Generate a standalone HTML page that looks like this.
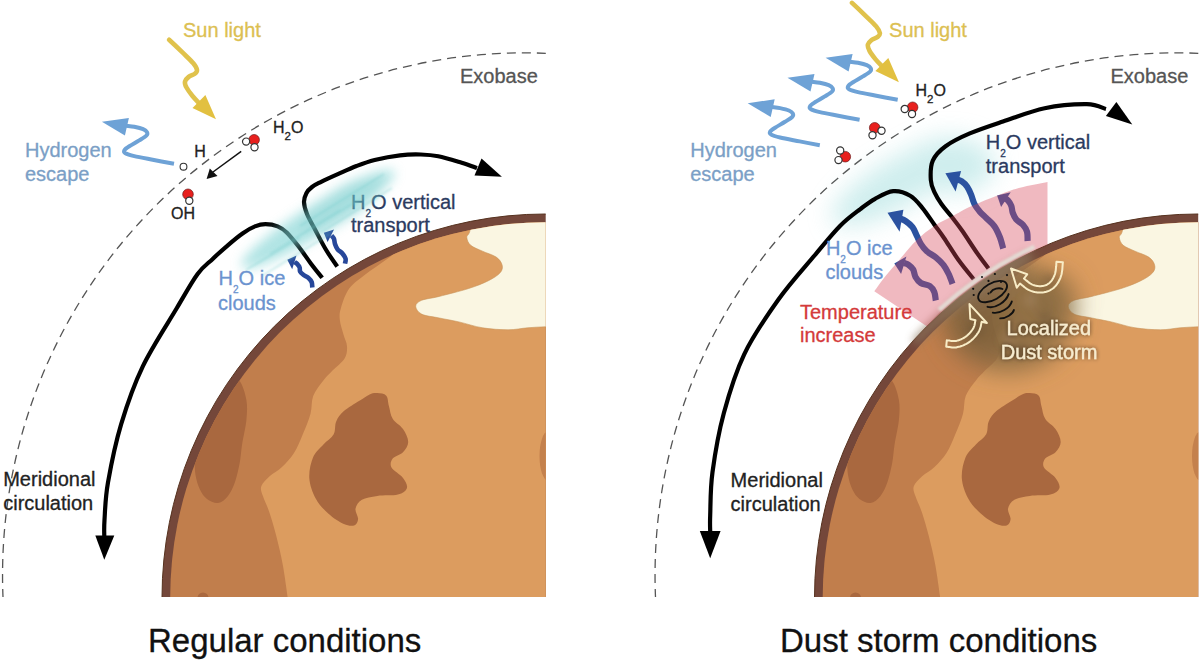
<!DOCTYPE html>
<html><head><meta charset="utf-8">
<style>
html,body{margin:0;padding:0;background:#fff;}
body{width:1200px;height:662px;overflow:hidden;}
svg{display:block;}
text{font-family:"Liberation Sans",sans-serif;}
</style></head>
<body>
<svg width="1200" height="662" viewBox="0 0 1200 662">
<defs>
  <clipPath id="pclip"><path d="M0 0 H545.7 V597 H0 Z"/></clipPath>
  <clipPath id="pinner"><circle cx="545.5" cy="597.5" r="375.3"/></clipPath>
  <clipPath id="rclip"><circle cx="1198.0" cy="597.5" r="384.0"/></clipPath>
  <clipPath id="rclip2"><circle cx="1198.0" cy="597.5" r="385.0"/></clipPath>
  <filter id="tshadow" x="-20%" y="-40%" width="140%" height="180%"><feGaussianBlur in="SourceAlpha" stdDeviation="2"/><feComponentTransfer><feFuncA type="linear" slope="0.6"/></feComponentTransfer><feMerge><feMergeNode/><feMergeNode in="SourceGraphic"/></feMerge></filter>
  <filter id="blur4" x="-50%" y="-50%" width="200%" height="200%"><feGaussianBlur stdDeviation="4"/></filter>
  <filter id="blur1" x="-50%" y="-50%" width="200%" height="200%"><feGaussianBlur stdDeviation="1.2"/></filter>
  <filter id="blur6" x="-50%" y="-50%" width="200%" height="200%"><feGaussianBlur stdDeviation="6"/></filter>
  <filter id="blur10" x="-50%" y="-50%" width="200%" height="200%"><feGaussianBlur stdDeviation="10"/></filter>
  <filter id="blur12" x="-50%" y="-50%" width="200%" height="200%"><feGaussianBlur stdDeviation="12"/></filter>

  <g id="planet">
    <g clip-path="url(#pclip)">
      <circle cx="545.5" cy="597.5" r="383.5" fill="#74473a" stroke="#56321f" stroke-width="1"/>
      <g clip-path="url(#pinner)">
        <rect x="150" y="200" width="420" height="420" fill="#c17e4c"/>
        <path fill="#dc9c5f" d="M404.0 236.0 C402.6 238.7 399.3 247.3 395.3 252.0 C391.3 256.7 384.8 260.4 380.0 264.0 C375.2 267.6 371.4 269.8 366.3 273.8 C361.2 277.9 353.6 282.7 349.4 288.3 C345.2 293.9 342.6 302.4 341.0 307.7 C339.4 312.9 339.4 315.4 339.8 319.8 C340.2 324.2 342.2 329.9 343.4 334.3 C344.6 338.7 346.8 342.3 347.0 346.3 C347.2 350.3 347.0 354.4 344.6 358.4 C342.2 362.4 336.1 366.7 332.5 370.5 C328.9 374.3 326.2 376.8 323.0 381.0 C319.8 385.2 315.3 390.6 313.2 396.0 C311.1 401.4 312.2 407.3 310.5 413.7 C308.8 420.1 305.6 427.6 302.8 434.2 C300.1 440.8 297.5 447.5 294.0 453.0 C290.5 458.5 286.1 463.1 282.0 467.0 C277.9 470.9 273.1 473.1 269.6 476.3 C266.2 479.5 262.4 483.0 261.3 486.3 C260.2 489.6 261.6 491.9 263.0 496.3 C264.4 500.7 267.4 506.3 269.6 512.9 C271.8 519.5 274.1 527.2 276.3 536.1 C278.5 545.0 281.1 555.4 283.0 566.0 C284.9 576.6 287.2 594.3 288.0 600.0 L600 600 L600 200 L404 200 Z"/>
        <path fill="#a9683f" d="M240.0 381.5 C242.4 384.5 245.3 393.6 246.4 400.0 C247.5 406.4 247.1 412.5 246.4 420.0 C245.7 427.5 243.1 437.8 242.0 445.0 C240.9 452.2 240.9 456.8 239.7 463.0 C238.5 469.2 236.9 476.5 235.0 482.0 C233.1 487.5 230.8 492.5 228.0 496.0 C225.2 499.5 221.6 502.5 218.1 503.0 C214.6 503.5 210.0 501.2 207.0 499.0 C204.0 496.8 201.8 493.6 199.9 489.6 C198.0 485.6 196.3 480.0 195.5 475.0 C194.7 470.0 194.7 465.5 194.9 459.7 C195.2 453.9 195.6 446.1 197.0 440.0 C198.4 433.9 200.7 429.0 203.2 423.2 C205.7 417.4 208.7 410.5 212.0 405.0 C215.3 399.5 219.8 393.8 223.1 390.0 C226.4 386.2 229.2 383.4 232.0 382.0 C234.8 380.6 237.6 378.5 240.0 381.5 Z"/>
        <path fill="#a9683f" d="M377.3 393.1 C380.1 393.3 384.4 393.6 386.3 395.7 C388.2 397.8 387.8 402.1 388.9 406.0 C390.0 409.9 390.3 414.9 392.7 418.8 C395.1 422.7 400.4 425.2 403.0 429.1 C405.6 433.0 408.2 438.0 408.2 441.9 C408.2 445.8 405.6 449.4 403.0 452.2 C400.4 455.0 394.6 456.0 392.7 458.6 C390.8 461.2 389.8 464.4 391.5 467.6 C393.2 470.8 400.4 474.5 403.0 477.9 C405.6 481.3 407.8 485.4 406.9 488.2 C406.0 491.0 402.8 493.3 397.9 494.6 C393.0 495.9 383.3 495.0 377.3 495.9 C371.3 496.8 365.5 497.6 361.9 499.7 C358.3 501.8 356.1 505.5 355.5 508.7 C354.9 511.9 358.3 516.2 358.1 519.0 C357.9 521.8 356.6 524.5 354.2 525.4 C351.8 526.2 348.2 526.0 343.9 524.1 C339.6 522.2 333.2 518.1 328.5 513.8 C323.8 509.5 318.9 504.4 315.7 498.4 C312.5 492.4 309.7 484.8 309.3 477.9 C308.9 471.0 310.8 462.9 313.1 457.3 C315.5 451.7 320.0 448.4 323.4 444.5 C326.8 440.6 331.6 438.1 333.7 434.2 C335.8 430.3 334.5 425.2 336.2 421.4 C337.9 417.5 340.0 414.5 343.9 411.1 C347.8 407.7 355.1 403.6 359.4 400.8 C363.7 398.0 366.6 395.7 369.6 394.4 C372.6 393.1 374.5 392.9 377.3 393.1 Z"/>
        <ellipse cx="548" cy="456" rx="8.5" ry="24.5" fill="#c4814d"/>
        <ellipse cx="203" cy="598" rx="5.5" ry="5.5" fill="#a9683f"/>
        <path fill="#faf6e2" stroke="#c9955d" stroke-width="0.6" d="M474.0 212.0 C473.3 215.3 470.9 227.3 469.7 231.6 C468.5 235.8 466.6 235.2 466.8 237.5 C467.0 239.8 468.1 243.0 470.7 245.3 C473.3 247.6 478.2 249.2 482.5 251.2 C486.8 253.2 492.9 254.8 496.2 257.1 C499.5 259.4 501.5 262.4 502.1 265.0 C502.8 267.6 502.4 270.2 500.1 272.8 C497.8 275.4 493.6 278.1 488.4 280.7 C483.2 283.3 476.9 285.9 468.7 288.5 C460.5 291.1 447.1 294.4 439.3 296.4 C431.5 298.4 425.5 298.7 421.6 300.3 C417.7 301.9 415.7 303.9 415.7 306.2 C415.7 308.5 417.7 312.1 421.6 314.1 C425.5 316.1 433.1 316.7 439.3 318.0 C445.5 319.3 451.7 320.3 458.9 321.9 C466.1 323.5 474.3 326.5 482.5 327.8 C490.7 329.1 500.5 329.8 508.0 329.8 C515.5 329.8 521.4 328.3 527.6 327.8 C533.8 327.3 539.1 327.0 545.3 326.8 C551.5 326.6 561.7 326.8 565.0 326.8 L565 200 L474 200 Z"/>
      </g>
    </g>
  </g>
</defs>

<g id="left">
  <path d="M545.8 53.3 A522.3 522.3 0 0 0 3 597" fill="none" stroke="#555" stroke-width="1.3" stroke-dasharray="9 6"/>
  <use href="#planet"/>
  <path d="M169.1 39.8 C171.4 41.9 178.7 48.8 182.7 52.7 C186.7 56.6 190.9 60.4 193.3 63.3 C195.7 66.2 196.8 68.3 197.0 70.1 C197.2 71.8 196.2 72.7 194.8 73.8 C193.4 74.9 190.3 75.6 188.7 76.9 C187.1 78.2 185.4 79.6 185.0 81.4 C184.6 83.2 185.2 85.1 186.5 87.5 C187.8 89.9 190.4 93.4 192.5 96.0 C194.6 98.6 197.9 101.8 199.0 103.0" fill="none" stroke="#e0c24c" stroke-width="4.6" stroke-linecap="round" stroke-linejoin="round"/><path d="M192.5 107.9 L205.4 95.0 L216.0 119.2 Z" fill="#e2c040" />
  <path d="M174.0 163.8 C170.7 163.2 160.5 161.3 153.9 160.0 C147.3 158.7 139.1 157.2 134.3 156.1 C129.6 155.0 127.1 154.2 125.4 153.2 C123.8 152.2 123.8 151.3 124.4 150.2 C125.1 149.0 126.8 147.9 129.3 146.3 C131.8 144.7 136.3 142.2 139.2 140.4 C142.1 138.6 145.2 136.9 146.5 135.5 C147.8 134.1 147.6 133.2 147.0 132.1 C146.4 131.0 145.2 130.0 143.1 129.1 C141.0 128.2 137.2 127.3 134.3 126.7 C131.5 126.1 127.4 125.9 126.0 125.7" fill="none" stroke="#6ea2d6" stroke-width="4"/><path d="M128.9 117.9 L124.9 135.5 L101.9 121.8 Z" fill="#6ea2d6" />
  <path d="M322.2 277.8 C320.3 275.4 314.7 268.6 310.8 263.4 C306.9 258.2 302.8 252.0 298.8 246.8 C294.8 241.7 290.2 235.9 286.7 232.5 C283.2 229.1 281.1 227.8 277.6 226.4 C274.1 225.0 269.3 224.2 265.5 224.2 C261.7 224.2 258.8 224.9 255.0 226.4 C251.2 227.9 247.4 230.0 242.9 233.2 C238.4 236.3 232.8 241.0 227.8 245.3 C222.8 249.6 217.7 254.1 212.7 258.9 C207.7 263.7 203.6 265.8 197.6 274.0 C191.6 282.2 185.8 292.9 176.7 308.3 C167.6 323.7 152.1 347.0 142.8 366.3 C133.5 385.6 126.9 405.0 121.1 424.3 C115.3 443.6 110.8 466.4 108.0 482.3 C105.2 498.2 105.1 510.9 104.5 520.0 C103.9 529.1 104.3 534.2 104.3 537.0" fill="none" stroke="#000" stroke-width="4.2"/>
  <path d="M95.3 535.5 L114.3 535.5 L104.3 559.7 Z" fill="#000" />
  <path d="M337.3 266.5 C335.4 263.7 329.6 255.9 326.0 249.8 C322.4 243.8 318.6 236.2 315.4 230.2 C312.2 224.2 308.9 218.7 307.0 214.0 C305.1 209.3 304.1 205.5 304.0 202.0 C303.9 198.5 305.2 195.5 306.5 193.0 C307.8 190.5 309.7 188.8 312.0 187.0 C314.3 185.2 315.8 184.5 320.2 182.3 C324.6 180.1 332.3 176.6 338.4 173.9 C344.4 171.2 350.5 168.3 356.5 166.0 C362.5 163.7 367.4 161.8 374.6 160.0 C381.9 158.2 392.3 156.2 400.0 155.3 C407.7 154.4 414.4 154.3 420.8 154.5 C427.2 154.7 431.5 154.9 438.3 156.3 C445.1 157.7 455.2 160.8 461.7 162.7 C468.1 164.6 474.4 167.1 477.0 168.0" fill="none" stroke="#000" stroke-width="4.2"/>
  <path d="M481.5 158.6 L474.5 175.5 L501.9 176.7 Z" fill="#000" />
  <path d="M312.3 287.4 C312.2 286.5 312.3 283.7 311.7 282.1 C311.1 280.5 309.9 279.1 308.5 277.9 C307.1 276.7 304.7 275.8 303.3 274.7 C301.9 273.6 300.7 272.7 300.1 271.5 C299.5 270.3 300.1 268.5 299.6 267.3 C299.2 266.1 298.2 265.0 297.4 264.1 C296.5 263.2 295.0 262.4 294.5 262.0" fill="none" stroke="#27479a" stroke-width="4.6"/><path d="M287.3 259.7 L296.5 255.6 L292.2 269.3 Z" fill="#27479a" />
  <path d="M345.0 263.6 C345.1 262.8 346.0 260.5 345.6 258.8 C345.2 257.1 343.7 255.1 342.4 253.5 C341.1 251.9 338.8 250.9 337.6 249.3 C336.4 247.7 335.6 245.8 335.0 244.0 C334.4 242.2 334.5 240.1 333.9 238.7 C333.3 237.3 331.9 236.0 331.5 235.5" fill="none" stroke="#27479a" stroke-width="4.6"/><path d="M323.8 232.7 L334.0 229.6 L327.6 242.0 Z" fill="#27479a" />
  <text x="351" y="208.5" font-size="20" fill="#2b3a60" stroke="#2b3a60" stroke-width="0.3" >H<tspan font-size="10" dy="8">2</tspan><tspan dy="-8">O vertical</tspan></text>
  <text x="351" y="232" font-size="20" fill="#2b3a60" stroke="#2b3a60" stroke-width="0.3" >transport</text>
  
  <g opacity="0.6" filter="url(#blur6)">
    <ellipse cx="318" cy="219" rx="90" ry="15" fill="#7cd2d2" transform="rotate(-32 318 219)"/>
    <ellipse cx="342" cy="204" rx="50" ry="15" fill="#6cc9c9" transform="rotate(-32 342 204)"/>
  </g>
  <g opacity="0.3" filter="url(#blur1)" stroke="#6cc8c8" stroke-width="2" fill="none">
    <path d="M246 270 L300 238"/><path d="M262 276 L330 234"/><path d="M270 254 L340 210"/>
    <path d="M300 226 L384 174"/><path d="M322 232 L392 188"/><path d="M286 244 L362 198"/>
  </g>
  <g transform="translate(254.1 139.8)"><circle r="5.3" fill="#e8201e" stroke="#6a1a1a" stroke-width="0.7"/><circle cx="-8.00" cy="1.80" r="3.6" fill="#fff" stroke="#333" stroke-width="1.2"/><circle cx="0.40" cy="7.40" r="3.6" fill="#fff" stroke="#333" stroke-width="1.2"/></g>
  <circle cx="183.5" cy="166.7" r="3.4" fill="#fff" stroke="#333" stroke-width="1.1"/>
  <g transform="translate(188 194.3)"><circle r="5.3" fill="#e8201e" stroke="#6a1a1a" stroke-width="0.7"/><circle cx="1.30" cy="6.40" r="3.6" fill="#fff" stroke="#333" stroke-width="1.2"/></g>
  <path d="M241.2 151.3 L213 172" stroke="#111" stroke-width="1.5"/>
  <path d="M209.8 168.5 L217.5 176.0 L206.6 178.9 Z" fill="#111" />
  <text x="194.2" y="156.5" font-size="16" fill="#222" stroke="#222" stroke-width="0.3" >H</text>
  <text x="171" y="219" font-size="16" fill="#222" stroke="#222" stroke-width="0.3" >OH</text>
  <text x="273" y="133" font-size="16" fill="#222" stroke="#222" stroke-width="0.3" >H<tspan font-size="11.5" dy="7">2</tspan><tspan dy="-7">O</tspan></text>
  <text x="218.6" y="285.4" font-size="20" fill="#6b93cf" stroke="#6b93cf" stroke-width="0.3" >H<tspan font-size="10" dy="8">2</tspan><tspan dy="-8">O ice</tspan></text>
  <text x="218" y="310.3" font-size="20" fill="#6b93cf" stroke="#6b93cf" stroke-width="0.3" >clouds</text>
  <text x="183" y="37.4" font-size="20" fill="#dcc052" stroke="#dcc052" stroke-width="0.3" >Sun light</text>
  <text x="460" y="83.3" font-size="20" fill="#555" stroke="#555" stroke-width="0.3" >Exobase</text>
  <text x="25" y="157" font-size="20" fill="#7b9fc6" stroke="#7b9fc6" stroke-width="0.3" >Hydrogen</text>
  <text x="25" y="180.5" font-size="20" fill="#7b9fc6" stroke="#7b9fc6" stroke-width="0.3" >escape</text>
  <text x="3.2" y="486" font-size="20" fill="#222" stroke="#222" stroke-width="0.3" >Meridional</text>
  <text x="3.2" y="510.4" font-size="20" fill="#222" stroke="#222" stroke-width="0.3" >circulation</text>
  <text x="148" y="652" font-size="33" fill="#111" stroke="#111" stroke-width="0.3" >Regular conditions</text>
</g>

<g id="right">
  <path d="M1198.3 53.3 A522.3 522.3 0 0 0 655.5 597" fill="none" stroke="#555" stroke-width="1.3" stroke-dasharray="9 6"/>
  
  <g opacity="0.55" filter="url(#blur12)">
    <ellipse cx="900" cy="182" rx="78" ry="24" fill="#a8e0e0" transform="rotate(-30 900 182)"/>
    <ellipse cx="950" cy="165" rx="45" ry="28" fill="#a8e0e0"/>
  </g>
  <use href="#planet" transform="translate(652.5 0)"/>
  
  <g clip-path="url(#rclip2)">
  <g filter="url(#blur12)">
    <ellipse cx="1008" cy="316" rx="66" ry="56" fill="#84693f" opacity="0.82"/>
    <ellipse cx="980" cy="318" rx="30" ry="36" fill="#76593a" opacity="0.45"/>
    <ellipse cx="1052" cy="298" rx="26" ry="26" fill="#86693f" opacity="0.55"/>
    <ellipse cx="985" cy="278" rx="40" ry="14" fill="#8a7560" opacity="0.7" transform="rotate(-38 985 278)"/>
  </g>
  <g filter="url(#blur4)" opacity="0.35">
    <circle cx="1030" cy="300" r="7" fill="#b09070"/><circle cx="1045" cy="318" r="6" fill="#5e4a30"/>
    <circle cx="1008" cy="338" r="8" fill="#a08060"/><circle cx="1050" cy="280" r="6" fill="#5e4a30"/>
    <circle cx="975" cy="330" r="7" fill="#5a4630"/><circle cx="1020" cy="350" r="7" fill="#5e4a30"/>
  </g>
  </g>
  <path d="M914.9 342.6 A381 381 0 0 1 1031.0 255.1" fill="none" stroke="#8f7a62" stroke-width="8" opacity="0.75" filter="url(#blur4)"/>
  <path d="M852.0 2.9 C854.3 5.0 861.6 11.9 865.6 15.8 C869.6 19.7 873.8 23.5 876.2 26.4 C878.6 29.3 879.6 31.4 879.9 33.2 C880.1 34.9 879.1 35.8 877.7 36.9 C876.3 38.0 873.2 38.7 871.6 40.0 C870.0 41.3 868.3 42.7 867.9 44.5 C867.5 46.3 868.1 48.2 869.4 50.6 C870.6 53.0 873.3 56.5 875.4 59.1 C877.5 61.7 880.8 64.9 881.9 66.1" fill="none" stroke="#e0c24c" stroke-width="4.6" stroke-linecap="round" stroke-linejoin="round"/><path d="M875.4 71.0 L888.3 58.1 L898.9 82.3 Z" fill="#e2c040" />
  <path d="M897.7 99.8 C894.4 99.2 884.2 97.3 877.6 96.0 C871.0 94.7 862.8 93.2 858.0 92.1 C853.2 91.0 850.8 90.2 849.1 89.2 C847.5 88.2 847.5 87.3 848.1 86.2 C848.8 85.0 850.5 83.9 853.0 82.3 C855.5 80.7 860.0 78.2 862.9 76.4 C865.8 74.6 868.9 72.9 870.2 71.5 C871.5 70.1 871.3 69.2 870.7 68.1 C870.1 67.0 868.9 66.0 866.8 65.1 C864.7 64.2 860.9 63.3 858.0 62.7 C855.1 62.1 851.1 61.9 849.7 61.7" fill="none" stroke="#6ea2d6" stroke-width="4"/><path d="M852.6 53.9 L848.6 71.5 L825.6 57.8 Z" fill="#6ea2d6" />
  <path d="M859.6 119.8 C856.2 119.2 846.1 117.3 839.5 116.0 C832.9 114.7 824.7 113.2 819.9 112.1 C815.2 111.0 812.6 110.2 811.0 109.2 C809.4 108.2 809.4 107.3 810.0 106.2 C810.6 105.0 812.4 103.9 814.9 102.3 C817.4 100.7 821.9 98.2 824.8 96.4 C827.7 94.6 830.8 92.9 832.1 91.5 C833.4 90.1 833.2 89.2 832.6 88.1 C832.0 87.0 830.8 86.0 828.7 85.1 C826.6 84.2 822.8 83.3 819.9 82.7 C817.1 82.1 813.0 81.9 811.6 81.7" fill="none" stroke="#6ea2d6" stroke-width="4"/><path d="M814.5 73.9 L810.5 91.5 L787.5 77.8 Z" fill="#6ea2d6" />
  <path d="M819.8 145.2 C816.4 144.6 806.3 142.7 799.7 141.4 C793.1 140.1 784.8 138.6 780.1 137.5 C775.3 136.4 772.8 135.6 771.2 134.6 C769.5 133.6 769.5 132.8 770.2 131.6 C770.8 130.4 772.6 129.3 775.1 127.7 C777.6 126.1 782.1 123.6 785.0 121.8 C787.9 120.0 791.0 118.3 792.3 116.9 C793.6 115.5 793.4 114.6 792.8 113.5 C792.2 112.4 791.0 111.4 788.9 110.5 C786.8 109.6 782.9 108.7 780.1 108.1 C777.2 107.5 773.2 107.3 771.8 107.1" fill="none" stroke="#6ea2d6" stroke-width="4"/><path d="M774.7 99.3 L770.7 116.9 L747.7 103.2 Z" fill="#6ea2d6" />
  <g transform="translate(912.6 107.3)"><circle r="5.3" fill="#e8201e" stroke="#6a1a1a" stroke-width="0.7"/><circle cx="-7.90" cy="1.70" r="3.6" fill="#fff" stroke="#333" stroke-width="1.2"/><circle cx="-0.60" cy="6.70" r="3.6" fill="#fff" stroke="#333" stroke-width="1.2"/></g>
  <g transform="translate(874.7 127.8)"><circle r="5.3" fill="#e8201e" stroke="#6a1a1a" stroke-width="0.7"/><circle cx="6.80" cy="2.90" r="3.6" fill="#fff" stroke="#333" stroke-width="1.2"/><circle cx="-2.20" cy="7.40" r="3.6" fill="#fff" stroke="#333" stroke-width="1.2"/></g>
  <g transform="translate(845.3 156.7)"><circle r="5.3" fill="#e8201e" stroke="#6a1a1a" stroke-width="0.7"/><circle cx="-5.10" cy="-6.20" r="3.6" fill="#fff" stroke="#333" stroke-width="1.2"/><circle cx="-6.80" cy="3.40" r="3.6" fill="#fff" stroke="#333" stroke-width="1.2"/></g>
  <path d="M973.7 279.3 C971.2 276.1 963.5 266.9 958.5 260.0 C953.5 253.1 948.0 243.9 944.0 238.0 C940.0 232.1 938.0 229.7 934.4 224.7 C930.8 219.7 926.3 212.6 922.3 207.8 C918.3 203.0 915.1 198.5 910.2 195.7 C905.4 192.9 899.1 190.7 893.2 191.2 C887.4 191.7 880.6 195.8 875.1 198.8 C869.6 201.8 865.9 204.8 860.0 209.3 C854.1 213.8 847.5 218.4 840.0 226.0 C832.5 233.6 825.3 242.7 815.0 255.0 C804.7 267.3 789.9 283.4 778.1 300.0 C766.3 316.6 753.2 335.4 744.2 354.3 C735.2 373.2 729.1 393.6 723.8 413.2 C718.5 432.8 714.8 455.1 712.5 472.1 C710.2 489.1 710.6 505.0 710.2 515.0 C709.8 525.0 710.2 529.2 710.2 532.0" fill="none" stroke="#000" stroke-width="4.2"/>
  <path d="M699.8 531.0 L720.6 531.0 L710.2 558.2 Z" fill="#000" />
  <path d="M988.5 268.5 C986.5 265.8 981.1 258.8 976.7 252.5 C972.3 246.2 966.4 236.8 962.2 230.8 C958.0 224.8 954.7 220.7 951.3 216.3 C947.9 211.9 944.4 208.2 941.6 204.2 C938.8 200.2 936.2 196.1 934.4 192.1 C932.6 188.1 931.1 185.2 930.8 180.0 C930.5 174.8 930.3 166.2 932.8 160.6 C935.3 155.0 939.4 150.7 945.6 146.2 C951.8 141.7 960.2 137.5 969.8 133.4 C979.4 129.3 990.5 125.7 1003.0 121.5 C1015.5 117.3 1030.6 111.1 1044.6 108.2 C1058.6 105.3 1076.6 104.1 1086.8 104.2 C1097.0 104.3 1102.8 108.2 1106.0 109.0" fill="none" stroke="#000" stroke-width="4.2"/>
  <path d="M1116.4 101.9 L1105.9 116.0 L1132.3 124.5 Z" fill="#000" />
  <path d="M935.8 300.5 C935.5 299.1 935.3 294.4 934.3 292.0 C933.3 289.6 932.0 287.5 929.8 286.0 C927.5 284.5 923.2 284.5 920.8 283.0 C918.4 281.5 916.8 279.3 915.5 277.0 C914.2 274.7 914.3 271.4 913.2 269.4 C912.1 267.4 910.2 266.0 908.7 264.9 C907.2 263.8 904.8 263.3 904.0 263.0" fill="none" stroke="#2b52a0" stroke-width="6.2"/><path d="M894.3 263.4 L906.4 256.6 L901.1 274.0 Z" fill="#2b52a0" />
  <path d="M952.5 283.8 C951.9 282.2 950.2 277.1 948.7 274.0 C947.2 270.9 945.5 267.7 943.4 264.9 C941.2 262.1 938.6 259.7 935.8 257.4 C933.0 255.1 929.3 253.6 926.8 251.3 C924.3 249.0 922.4 246.3 920.8 243.8 C919.2 241.3 918.4 239.0 917.0 236.2 C915.6 233.4 914.4 229.7 912.5 227.2 C910.6 224.7 907.8 222.5 905.7 221.1 C903.6 219.7 901.0 218.9 900.0 218.5" fill="none" stroke="#2b52a0" stroke-width="6.2"/><path d="M887.5 212.8 L903.4 209.8 L899.6 231.7 Z" fill="#2b52a0" />
  <path d="M1003.2 248.5 C1002.6 246.6 1001.3 240.7 999.8 237.0 C998.3 233.3 996.6 229.3 994.3 226.1 C992.0 222.9 988.7 220.5 986.2 218.0 C983.7 215.5 981.3 213.5 979.4 211.2 C977.5 208.9 976.0 207.1 974.6 204.4 C973.2 201.7 972.4 197.9 971.2 194.9 C970.0 191.9 968.8 189.0 967.2 186.7 C965.6 184.4 963.4 182.5 961.7 181.3 C960.0 180.1 957.8 179.8 957.0 179.5" fill="none" stroke="#2b52a0" stroke-width="6.2"/><path d="M945.4 173.2 L961.1 171.1 L955.6 191.5 Z" fill="#2b52a0" />
  <path d="M1027.6 241.0 C1027.5 239.4 1027.8 234.3 1027.0 231.6 C1026.2 228.9 1024.7 226.9 1022.9 224.8 C1021.1 222.8 1017.8 221.3 1016.1 219.3 C1014.4 217.3 1013.5 214.8 1012.7 212.6 C1011.9 210.3 1012.1 207.9 1011.3 205.8 C1010.5 203.8 1009.1 201.6 1007.9 200.3 C1006.7 199.0 1004.6 198.4 1004.0 198.0" fill="none" stroke="#2b52a0" stroke-width="6.2"/><path d="M997.1 195.6 L1010.7 192.2 L1001.1 207.1 Z" fill="#2b52a0" />
  <path d="M874.3 291.3 C876.2 288.7 881.8 280.7 886.0 275.5 C890.2 270.3 894.2 265.9 899.3 260.0 C904.3 254.2 910.4 246.1 916.3 240.4 C922.1 234.7 928.4 229.9 934.4 225.9 C940.4 221.9 946.5 219.5 952.5 216.3 C958.5 213.1 962.7 210.2 970.6 206.6 C978.5 203.0 991.8 197.6 1000.0 194.5 C1008.2 191.4 1012.1 189.9 1020.0 187.8 C1027.9 185.7 1042.9 183.1 1047.5 182.1 L1047.5 244.8 A383.5 383.5 0 0 0 926.8 326.3 Z" fill="#d8485a" opacity="0.38"/>
    <path d="M939.0 309.9 A387 387 0 0 1 1034.4 246.8" fill="none" stroke="#e4e0d8" stroke-width="4.5" opacity="0.9" filter="url(#blur1)"/>
  
  <g fill="none" stroke="#111" stroke-width="1.9" stroke-linecap="round">
    <ellipse cx="992.6" cy="291.6" rx="16" ry="8.2" transform="rotate(-30 992.6 291.6)"/>
    <path d="M990.5 292.5 C993 288.5 999 287.5 1002.5 289"/>
    <path d="M987.5 306.8 C995 309 1006 302 1008.6 294.1"/>
    <path d="M992.8 312.6 C1000 314 1010 308 1011.8 301.5"/>
    <path d="M1000.2 318.4 C1006 318.5 1013 314 1013.9 310"/>
  </g>
  <g fill="#111">
    <circle cx="994.9" cy="274" r="1.1"/><circle cx="1007" cy="275.1" r="1.1"/><circle cx="988.5" cy="280.9" r="1.1"/>
    <circle cx="973.2" cy="288.8" r="1.1"/><circle cx="973.7" cy="295" r="1.1"/><circle cx="988.5" cy="293.6" r="1.1"/>
    <circle cx="982" cy="277" r="1"/><circle cx="1001" cy="282" r="1"/>
  </g>
  <path d="M1056.5 261.7 L1056.4 262.5 L1056.3 263.6 L1056.3 264.8 L1056.2 266.2 L1056.0 267.6 L1055.9 269.0 L1055.7 270.5 L1055.5 271.8 L1055.2 273.0 L1055.0 274.0 L1054.6 275.0 L1054.2 276.0 L1053.7 277.0 L1053.3 278.0 L1052.7 278.9 L1052.2 279.8 L1051.6 280.6 L1051.0 281.4 L1050.4 282.0 L1049.8 282.6 L1049.2 283.2 L1048.5 283.7 L1047.8 284.1 L1047.0 284.6 L1046.2 285.0 L1045.4 285.3 L1044.5 285.6 L1043.7 285.8 L1042.8 286.0 L1041.9 286.1 L1041.1 286.2 L1040.2 286.2 L1039.2 286.2 L1038.2 286.1 L1037.1 285.9 L1036.1 285.7 L1035.1 285.5 L1034.1 285.2 L1033.1 284.9 L1032.3 284.6 L1031.5 284.2 L1030.6 283.7 L1029.7 283.1 L1028.7 282.4 L1027.8 281.6 L1026.9 280.9 L1026.0 280.2 L1025.2 279.5 L1024.5 278.9 L1024.0 278.5 L1027.2 274.3 L1011.0 268.5 L1016.8 287.7 L1020.0 283.5 L1020.5 283.9 L1021.1 284.4 L1021.9 285.1 L1022.8 285.8 L1023.8 286.6 L1024.9 287.5 L1026.0 288.3 L1027.2 289.1 L1028.5 289.8 L1029.7 290.4 L1031.0 290.9 L1032.2 291.3 L1033.5 291.7 L1034.8 292.0 L1036.1 292.2 L1037.4 292.4 L1038.7 292.5 L1040.1 292.6 L1041.4 292.6 L1042.7 292.5 L1043.9 292.3 L1045.2 292.0 L1046.4 291.7 L1047.6 291.3 L1048.8 290.8 L1049.9 290.3 L1051.0 289.7 L1052.1 289.0 L1053.2 288.2 L1054.2 287.4 L1055.1 286.4 L1056.0 285.5 L1056.8 284.4 L1057.5 283.3 L1058.3 282.2 L1058.9 281.0 L1059.5 279.8 L1060.1 278.5 L1060.6 277.3 L1061.0 276.0 L1061.5 274.5 L1061.8 273.0 L1062.0 271.4 L1062.3 269.8 L1062.4 268.2 L1062.5 266.7 L1062.6 265.3 L1062.7 264.1 L1062.8 263.1 L1062.9 262.3 Z" fill="none" stroke="#f8ecc6" stroke-width="2" stroke-linejoin="round"/>
  <path d="M946.2 346.7 L946.8 346.7 L947.5 346.8 L948.4 347.0 L949.5 347.1 L950.7 347.2 L952.0 347.4 L953.4 347.4 L954.8 347.4 L956.2 347.4 L957.6 347.1 L958.9 346.8 L960.2 346.5 L961.4 346.0 L962.7 345.6 L964.0 345.0 L965.2 344.4 L966.4 343.8 L967.6 343.1 L968.8 342.3 L969.9 341.6 L971.0 340.7 L972.0 339.8 L973.0 338.9 L974.0 337.9 L974.9 336.9 L975.8 335.8 L976.6 334.8 L977.4 333.7 L978.1 332.7 L978.8 331.6 L979.4 330.4 L979.9 329.2 L980.3 328.0 L980.7 326.8 L980.9 325.6 L981.1 324.6 L981.3 323.6 L981.5 322.8 L981.6 322.2 L981.7 321.8 L986.9 323.0 L969.5 304.1 L970.3 319.0 L975.5 320.2 L975.3 320.9 L975.2 321.6 L975.0 322.4 L974.9 323.3 L974.7 324.2 L974.5 325.2 L974.2 326.1 L973.9 326.9 L973.6 327.7 L973.2 328.4 L972.7 329.2 L972.2 330.0 L971.5 330.9 L970.9 331.8 L970.1 332.6 L969.3 333.5 L968.5 334.3 L967.7 335.1 L966.9 335.8 L966.1 336.4 L965.2 337.0 L964.3 337.6 L963.4 338.2 L962.4 338.7 L961.3 339.2 L960.3 339.6 L959.3 340.0 L958.3 340.4 L957.3 340.6 L956.4 340.9 L955.5 341.0 L954.6 341.0 L953.6 341.0 L952.5 341.0 L951.4 340.9 L950.3 340.8 L949.3 340.6 L948.3 340.5 L947.5 340.4 L946.8 340.3 Z" fill="none" stroke="#f8ecc6" stroke-width="2" stroke-linejoin="round"/>
  <text x="915.5" y="95.9" font-size="16" fill="#222" stroke="#222" stroke-width="0.3" >H<tspan font-size="11.5" dy="7">2</tspan><tspan dy="-7">O</tspan></text>
  <text x="985.8" y="148.8" font-size="20" fill="#2b3a60" stroke="#2b3a60" stroke-width="0.3" >H<tspan font-size="10" dy="8">2</tspan><tspan dy="-8">O vertical</tspan></text>
  <text x="985.8" y="173.1" font-size="20" fill="#2b3a60" stroke="#2b3a60" stroke-width="0.3" >transport</text>
  <text x="825.9" y="255.4" font-size="20" fill="#6b93cf" stroke="#6b93cf" stroke-width="0.3" >H<tspan font-size="10" dy="8">2</tspan><tspan dy="-8">O ice</tspan></text>
  <text x="825.4" y="279" font-size="20" fill="#6b93cf" stroke="#6b93cf" stroke-width="0.3" >clouds</text>
  <text x="800" y="318.9" font-size="20" fill="#d43a3a" stroke="#d43a3a" stroke-width="0.3" >Temperature</text>
  <text x="800" y="342.4" font-size="20" fill="#d43a3a" stroke="#d43a3a" stroke-width="0.3" >increase</text>
  <g filter="url(#tshadow)"><text x="1006.6" y="335.4" font-size="20" fill="#f6ecd0" stroke="#f6ecd0" stroke-width="0.3" >Localized</text>
  <text x="1000.7" y="359" font-size="20" fill="#f6ecd0" stroke="#f6ecd0" stroke-width="0.3" >Dust storm</text></g>
  <text x="889.1" y="37" font-size="20" fill="#dcc052" stroke="#dcc052" stroke-width="0.3" >Sun light</text>
  <text x="1110.5" y="83.3" font-size="20" fill="#555" stroke="#555" stroke-width="0.3" >Exobase</text>
  <text x="690.2" y="157.1" font-size="20" fill="#7b9fc6" stroke="#7b9fc6" stroke-width="0.3" >Hydrogen</text>
  <text x="690.2" y="180.7" font-size="20" fill="#7b9fc6" stroke="#7b9fc6" stroke-width="0.3" >escape</text>
  <text x="730.6" y="486.6" font-size="20" fill="#222" stroke="#222" stroke-width="0.3" >Meridional</text>
  <text x="730.6" y="510.6" font-size="20" fill="#222" stroke="#222" stroke-width="0.3" >circulation</text>
  <text x="780" y="652" font-size="33" fill="#111" stroke="#111" stroke-width="0.3" >Dust storm conditions</text>
</g>
</svg>
</body></html>
